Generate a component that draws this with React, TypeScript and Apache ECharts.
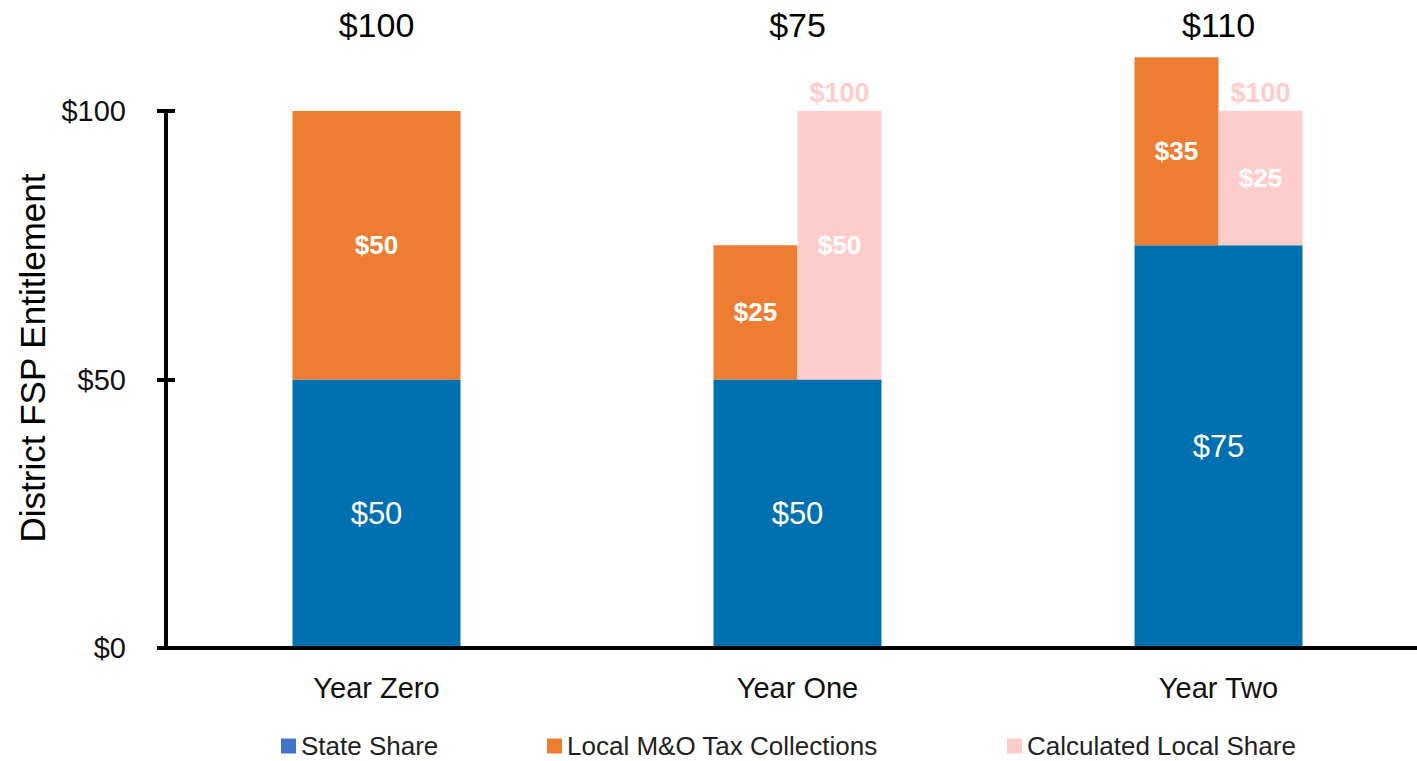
import React, { useEffect, useRef } from "react";
import * as echarts from "echarts";

const categories = ["Year Zero", "Year One", "Year Two"];
const stateShare = [50, 50, 75];
const localTax = [50, 25, 35];
const calcLocal: (number | null)[] = [null, 50, 25];
const totals = [100, 75, 110];
const yTicks = [0, 50, 100];
const yTitle = "District FSP Entitlement";

const BLUE = "#0070B0";
const ORANGE = "#ED7D31";
const PINK = "#FFCCCC";
const LEGEND_BLUE = "#4472C4";
const FONT = "'Liberation Sans', Arial, sans-serif";

export default function App() {
  const ref = useRef<HTMLDivElement>(null);
  useEffect(() => {
    document.body.style.margin = "0";
    const chart = echarts.init(ref.current!, undefined, { renderer: "svg" });
    const hasCalc = (i: number) => calcLocal[i] != null;
    const fullOrange = localTax.map((v, i) => (hasCalc(i) ? "-" : v));
    const halfOrange = localTax.map((v, i) => (hasCalc(i) ? v : "-"));
    const baseHalf = stateShare.map((v, i) => (hasCalc(i) ? v : "-"));
    const pink = calcLocal.map((v) => (v == null ? "-" : v));
    const pinkTop = calcLocal.map((v) => (v == null ? "-" : 0));

    const boldLabel = {
      show: true,
      position: "inside",
      color: "#fff",
      fontFamily: FONT,
      fontWeight: "bold",
      fontSize: 26,
      formatter: (p: any) => "$" + p.value,
    };

    const legendText = { fontFamily: FONT, fontSize: 26, lineHeight: 26, color: "#222" };
    const mkLegend = (name: string, color: string, left: number) => ({
      show: true,
      left,
      top: 733,
      padding: 0,
      itemWidth: 15,
      itemHeight: 15,
      itemGap: 0,
      icon: "rect",
      textStyle: legendText,
      data: [{ name, itemStyle: { color } }],
      selectedMode: false,
    });

    const yCommon = {
      type: "value",
      min: yTicks[0],
      max: yTicks[yTicks.length - 1],
      interval: 50,
      splitLine: { show: false },
    };

    chart.setOption({
      animation: false,
      grid: {
        left: 166,
        right: -12,
        top: 111,
        bottom: 113,
        containLabel: false,
        outerBoundsMode: "none",
      },
      graphic: [
        {
          type: "text",
          x: 32,
          y: 358,
          rotation: Math.PI / 2,
          style: {
            text: yTitle,
            fontFamily: FONT,
            fontSize: 35,
            fill: "#000",
            align: "center",
            verticalAlign: "middle",
          },
        },
      ],
      legend: [
        mkLegend("State Share", LEGEND_BLUE, 281),
        mkLegend("Local M&O Tax Collections", ORANGE, 547),
        mkLegend("Calculated Local Share", PINK, 1007),
      ],
      xAxis: [
        {
          type: "category",
          data: categories,
          position: "bottom",
          axisLine: { show: true, lineStyle: { color: "#000", width: 4 } },
          axisTick: { show: false },
          axisLabel: { fontFamily: FONT, fontSize: 29, color: "#111", margin: 25 },
          z: 5,
        },
        {
          type: "category",
          data: categories,
          show: false,
        },
        {
          type: "category",
          data: categories,
          position: "top",
          axisLine: { show: false },
          axisTick: { show: false },
          axisLabel: {
            fontFamily: FONT,
            fontSize: 34,
            color: "#000",
            margin: 69,
            formatter: (_v: string, i: number) => "$" + totals[i],
          },
        },
      ],
      yAxis: [
        {
          ...yCommon,
          axisLine: { show: true, lineStyle: { color: "#000", width: 4 } },
          axisTick: { show: true, length: 9, lineStyle: { color: "#000", width: 4 } },
          axisLabel: {
            fontFamily: FONT,
            fontSize: 29,
            color: "#111",
            margin: 40,
            formatter: (v: number) => "$" + v,
          },
        },
        {
          ...yCommon,
          position: "left",
          axisLine: { show: false },
          axisTick: { show: true, inside: true, length: 9, lineStyle: { color: "#000", width: 4 } },
          axisLabel: { show: false },
        },
      ],
      series: [
        {
          name: "State Share",
          type: "bar",
          xAxisIndex: 0,
          stack: "full",
          barWidth: 168,
          data: stateShare,
          itemStyle: { color: BLUE },
          label: {
            show: true,
            position: "inside",
            color: "#fff",
            fontFamily: FONT,
            fontSize: 31,
            formatter: (p: any) => "$" + p.value,
          },
        },
        {
          name: "Local M&O Tax Collections",
          type: "bar",
          xAxisIndex: 0,
          stack: "full",
          barWidth: 168,
          data: fullOrange,
          itemStyle: { color: ORANGE },
          label: boldLabel,
          clip: false,
        },
        {
          name: "baseO",
          type: "bar",
          xAxisIndex: 1,
          stack: "o",
          barWidth: 84,
          barGap: "0%",
          data: baseHalf,
          itemStyle: { color: "transparent" },
          silent: true,
        },
        {
          name: "Local M&O Tax Collections",
          type: "bar",
          xAxisIndex: 1,
          stack: "o",
          barWidth: 84,
          barGap: "0%",
          data: halfOrange,
          itemStyle: { color: ORANGE },
          label: boldLabel,
          clip: false,
        },
        {
          name: "baseP",
          type: "bar",
          xAxisIndex: 1,
          stack: "p",
          barWidth: 84,
          barGap: "0%",
          data: baseHalf,
          itemStyle: { color: "transparent" },
          silent: true,
        },
        {
          name: "Calculated Local Share",
          type: "bar",
          xAxisIndex: 1,
          stack: "p",
          barWidth: 84,
          barGap: "0%",
          data: pink,
          itemStyle: { color: PINK },
          label: boldLabel,
          clip: false,
        },
        {
          name: "pinkTotal",
          type: "bar",
          xAxisIndex: 1,
          stack: "p",
          barWidth: 84,
          barGap: "0%",
          data: pinkTop,
          itemStyle: { color: "transparent" },
          silent: true,
          clip: false,
          label: {
            show: true,
            position: "top",
            distance: 5,
            color: PINK,
            fontFamily: FONT,
            fontWeight: "bold",
            fontSize: 27,
            formatter: (p: any) =>
              "$" + (stateShare[p.dataIndex] + (calcLocal[p.dataIndex] as number)),
          },
        },
      ],
    });
    return () => chart.dispose();
  }, []);
  return <div ref={ref} style={{ width: 1417, height: 761 }} />;
}
